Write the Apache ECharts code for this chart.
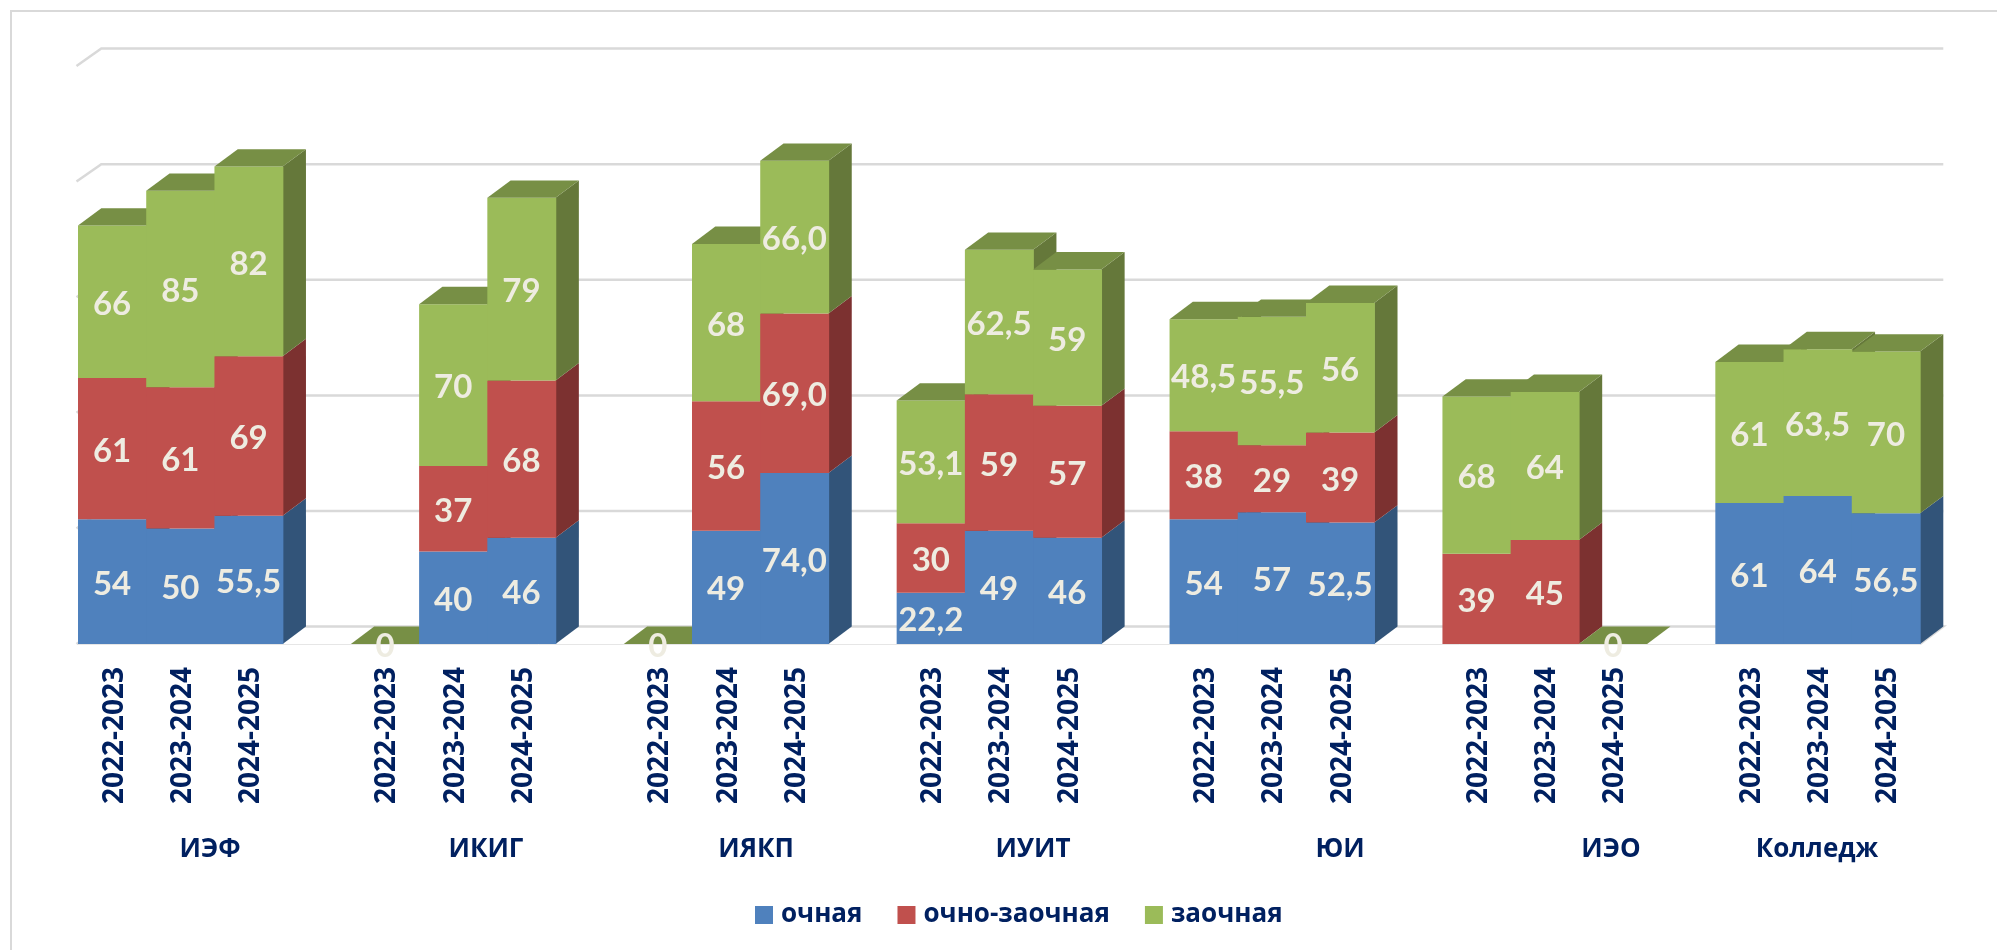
<!DOCTYPE html>
<html><head><meta charset="utf-8">
<style>html,body{margin:0;padding:0;background:#fff}#c{width:1997px;height:950px}</style>
<script src="https://cdn.jsdelivr.net/npm/echarts@6/dist/echarts.min.js"></script>
</head><body><div id="c"></div>
<script>
const years = ['2022-2023','2023-2024','2024-2025'];
const faculties = ['ИЭФ','ИКИГ','ИЯКП','ИУИТ','ЮИ','ИЭО','Колледж'];
const seriesNames = ['очная','очно-заочная','заочная'];
const ochnaya = [54,50,55.5, null,40,46, null,49,74, 22.2,49,46, 54,57,52.5, null,null,null, 61,64,56.5];
const ochnoZaochnaya = [61,61,69, null,37,68, null,56,69, 30,59,57, 38,29,39, 39,45,null, null,null,null];
const zaochnaya = [66,85,82, 0,70,79, 0,68,66, 53.1,62.5,59, 48.5,55.5,56, 68,64,0, 61,63.5,70];
const oneDecimalBars = [8]; // ИЯКП 2024-2025 is labelled 74,0 / 69,0 / 66,0
const wallTicks = [0,50,100,150,200,250];
const facultyLabelX = [210,486,756,1033,1340,1611,1817];

const front = ['#4F81BD','#C0504D','#9BBB59'];
const side = ['#325479','#7C3130','#65783A'];
const topFace = '#778F45';
const textLight = '#EEECE1';
const navy = '#002060';
const gridGray = '#D9D9D9';
const depthX = 23.3, depthY = 17.4;
const valueFont = 'Lato, "Open Sans", sans-serif';
const labelFont = '"Open Sans", sans-serif';

const allValues = [ochnaya, ochnoZaochnaya, zaochnaya];
const categories = [];
const slotOfBar = [];
faculties.forEach((f, g) => {
  years.forEach(y => { slotOfBar.push(categories.length); categories.push(y); });
  if (g < faculties.length - 1) categories.push(' ');
});
function fmt(v, i) {
  if (oneDecimalBars.includes(i)) return v.toFixed(1).replace('.', ',');
  return String(v).replace('.', ',');
}
function rowsFor(s) {
  const rows = [];
  allValues[s].forEach((v, i) => {
    if (v === null) return;
    let base = 0;
    for (let k = 0; k < s; k++) base += allValues[k][i] || 0;
    rows.push([slotOfBar[i], base, base + v, fmt(v, i)]);
  });
  return rows;
}
function barSeries(s) {
  const rows = rowsFor(s);
  return {
    type: 'custom', name: seriesNames[s], silent: true, z: 3,
    itemStyle: { color: front[s] },
    encode: { x: 0, y: [1, 2] },
    data: rows.map(r => r.slice(0, 3)),
    renderItem(params, api) {
      const slot = api.value(0);
      const a = api.coord([slot, api.value(1)]);
      const b = api.coord([slot, api.value(2)]);
      const w = api.size([1, 0])[0];
      const l = a[0] - w / 2, r = a[0] + w / 2, y0 = a[1], y1 = b[1];
      const order = slot * 10 + s * 3;
      const kids = [];
      if (y0 - y1 > 0) {
        kids.push({ type: 'polygon', z2: order, shape: { points: [[r, y0], [r + depthX, y0 - depthY], [r + depthX, y1 - depthY], [r, y1]] }, style: { fill: side[s] } });
        kids.push({ type: 'rect', z2: order + 1, shape: { x: l, y: y1, width: w + 0.7, height: y0 - y1 }, style: { fill: front[s] } });
      }
      if (s === 2) {
        kids.push({ type: 'polygon', z2: order + 2, shape: { points: [[l, y1], [l + depthX, y1 - depthY], [r + depthX, y1 - depthY], [r, y1]] }, style: { fill: topFace } });
      }
      kids.push({ type: 'text', z2: 100000, x: a[0], y: (y0 + y1) / 2 + 2.5, style: {
        text: rows[params.dataIndex][3], fill: textLight, font: 'bold 33px ' + valueFont, textAlign: 'center', textVerticalAlign: 'middle' } });
      return { type: 'group', children: kids };
    }
  };
}
const wallSeries = {
  type: 'custom', silent: true, z: 1,
  encode: { y: 0 },
  data: wallTicks.map(t => [t]),
  renderItem(params, api) {
    const y = api.coord([0, api.value(0)])[1];
    const w = api.size([1, 0])[0];
    const left = api.coord([0, 0])[0] - w / 2 - 1.5;
    const right = api.coord([categories.length - 1, 0])[0] + w / 2;
    const pts = [[left, y], [left + depthX + 1.5, y - depthY], [right + depthX, y - depthY]];
    if (api.value(0) === 0) pts.push([right, y]);
    return { type: 'polyline', shape: { points: pts }, style: { stroke: gridGray, lineWidth: 2.5, fill: null } };
  }
};
const chart = echarts.init(document.getElementById('c'), null, { renderer: 'canvas' });
chart.setOption({
  animation: false,
  backgroundColor: '#fff',
  grid: { left: 78, top: 66, width: 1842, height: 578, containLabel: false },
  xAxis: { type: 'category', data: categories, boundaryGap: true,
    axisLine: { show: true, lineStyle: { color: '#E6E6E6', width: 1 } }, axisTick: { show: false }, splitLine: { show: false },
    axisLabel: { interval: 0, rotate: 90, margin: 23, verticalAlign: 'top', lineHeight: 5, color: navy, fontFamily: labelFont, fontWeight: 'bold', fontSize: 28 } },
  yAxis: { type: 'value', min: 0, max: 250, interval: 50, show: false, splitLine: { show: false } },
  legend: { show: true, left: 750, top: 897, itemWidth: 18, itemHeight: 18, itemGap: 35, icon: 'rect', selectedMode: false,
    data: seriesNames, textStyle: { color: navy, fontFamily: labelFont, fontWeight: 'bold', fontSize: 26, padding: [0, 0, 0, 3] } },
  graphic: [
    { type: 'polyline', silent: true, z: 0, shape: { points: [[1997, 11], [11, 11], [11, 950]] }, style: { stroke: gridGray, lineWidth: 2, fill: null } }
  ].concat(faculties.map((f, i) => ({
    type: 'text', silent: true, x: facultyLabelX[i], y: 850,
    style: { text: f, fill: navy, font: 'bold 26px ' + labelFont, textAlign: 'center', textVerticalAlign: 'middle' }
  }))),
  series: [wallSeries, barSeries(0), barSeries(1), barSeries(2)]
});
</script></body></html>
